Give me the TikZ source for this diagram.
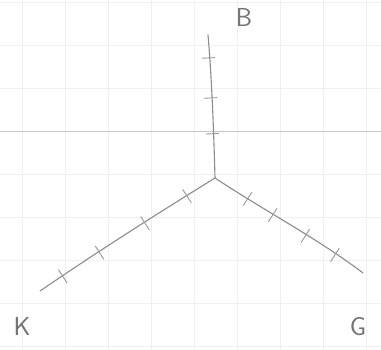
\documentclass[tikz,border=0pt]{standalone}
\usetikzlibrary{calc}
\begin{document}
\begin{tikzpicture}[x=1pt,y=-1pt,
  arm/.style={draw=black!45, line width=1.1pt, line cap=round},
  tickmark/.style={draw=black!40, line width=0.9pt},
  lbl/.style={text=black!55, font=\sffamily\fontsize{26}{26}\selectfont, inner sep=0pt},
  gridline/.style={draw=black!6, line width=0.6pt}]
\useasboundingbox (0,0) rectangle (381,350);
\fill[white] (0,0) rectangle (381,350);
\foreach \x in {22,65,108,151,194,237,280,323,366} \draw[gridline] (\x,0) -- (\x,350);
\foreach \y in {2,45,88,174,217,260,303,346} \draw[gridline] (0,\y) -- (381,\y);
\draw[draw=black!22, line width=0.7pt] (0,131) -- (381,131);
\coordinate (c) at (215,178);
\coordinate (bend) at (208,35);
\coordinate (kend) at (40,291);
\coordinate (gend) at (363,273);
\draw[arm] (c) .. controls (214,140) and (212,80) .. (bend);
\draw[arm] (c) .. controls (160,212) and (100,250) .. (kend);
\draw[arm] (c) .. controls (260,208) and (320,240) .. (gend);
\foreach \t in {0.31,0.56,0.84}
  \draw[tickmark] ($($(c)!\t!(bend)$)!7pt!90:(bend)$) -- ($($(c)!\t!(bend)$)!6pt!-90:(bend)$);
\foreach \t in {0.16,0.40,0.66,0.87}
  \draw[tickmark] ($($(c)!\t!(kend)$)!8pt!90:(kend)$) -- ($($(c)!\t!(kend)$)!8pt!-90:(kend)$);
\foreach \t in {0.22,0.39,0.61,0.81}
  \draw[tickmark] ($($(c)!\t!(gend)$)!8pt!90:(gend)$) -- ($($(c)!\t!(gend)$)!8pt!-90:(gend)$);
\node[lbl] (B) at (244,17) {B};
\node[lbl] (K) at (22,326) {K};
\node[lbl] (G) at (358,327) {G};
\end{tikzpicture}
\end{document}
